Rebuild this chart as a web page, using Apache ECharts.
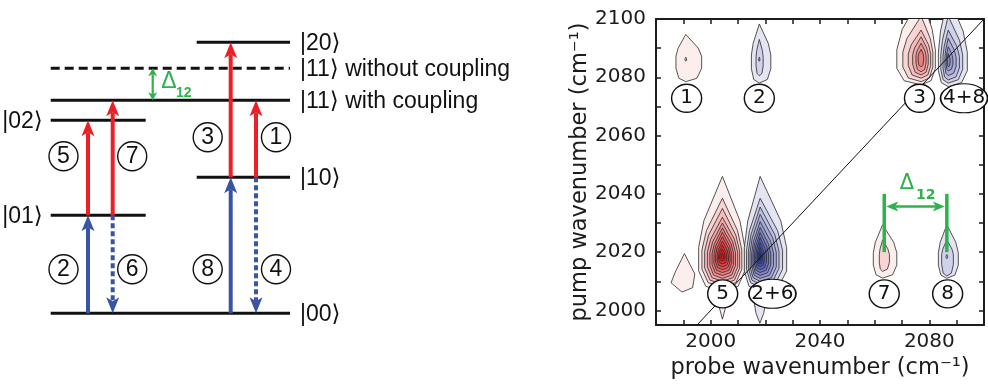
<!DOCTYPE html>
<html>
<head>
<meta charset="utf-8">
<script src="https://cdn.jsdelivr.net/npm/echarts@6/dist/echarts.min.js"></script>
<style>
  html, body { margin: 0; padding: 0; background: #fff; }
  #chart { width: 988px; height: 386px; }
</style>
</head>
<body>
<div id="chart"></div>
<script>
// ================= Energy-level scheme (left) =================
// level energies (schematic units, |00> = 0)
const levelKets    = ['|00⟩', '|01⟩', '|02⟩', '|10⟩', '|11⟩ with coupling', '|11⟩ without coupling', '|20⟩'];
const levelEnergy  = [0, 98, 193, 136, 213, 245, 271];
const levelColumn  = ['both', 'left', 'left', 'right', 'both', 'both', 'right'];
const levelDashed  = [false, false, false, false, false, true, false];
const levelKetSide = ['right', 'left', 'left', 'right', 'right', 'right', 'right'];

// transitions: number, column, start / end level energy, kind
const transitionIds    = ['2', '5', '6', '7', '8', '3', '4', '1'];
const transitionColumn = ['leftA', 'leftA', 'leftB', 'leftB', 'rightA', 'rightA', 'rightB', 'rightB'];
const transitionFrom   = [0, 98, 98, 98, 0, 136, 136, 136];
const transitionTo     = [98, 193, 0, 213, 136, 271, 0, 213];
const transitionKind   = ['bleach', 'esa', 'emission', 'esa', 'bleach', 'esa', 'emission', 'esa'];
const transitionLabelE = [44, 157, 44, 157, 44, 176, 44, 176];

// anharmonic shift of |11> shown between the two |11> levels
const schemeShift = [213, 245];

// ================= 2D spectrum (right) =================
const probeRange = [1980, 2100];
const pumpRange  = [1995, 2100];
const probeTickValues  = [1990, 2000, 2010, 2020, 2030, 2040, 2050, 2060, 2070, 2080, 2090];
const probeLabelValues = [2000, 2040, 2080];
const pumpTickValues   = [2000, 2010, 2020, 2030, 2040, 2050, 2060, 2070, 2080, 2090, 2100];
const pumpLabelValues  = [2000, 2020, 2040, 2060, 2080, 2100];

// cross / diagonal peaks: label, sign (+ red, - blue), centre
const peakLabels = ['1', '2', '3', '4+8', '5', '2+6', '7', '8'];
const peakSigns  = [1, -1, 1, -1, 1, -1, 1, -1];
const peakProbe  = [1990.9, 2017.8, 2077.0, 2086.9, 2004.3, 2018.1, 2062.9, 2086.4];
const peakPump   = [2086.2, 2086.2, 2086.9, 2085.9, 2018.3, 2018.2, 2018.5, 2018.5];
const labelProbe = [1991.2, 2017.8, 2076.4, 2092.7, 2004.4, 2022.6, 2063.5, 2086.7];
const labelPump  = [2072.8, 2072.8, 2072.8, 2072.8, 2005.7, 2005.7, 2005.7, 2005.7];

// contour rings per peak, outermost first: [probe left, probe right, pump bottom, pump top]
const rings1 = [[1987.3, 1996.7, 2078.5, 2094.7], [1990.6, 1991.2, 2085.6, 2086.9]];
const rings2 = [[2014.9, 2022.0, 2078.0, 2098.3], [2016.6, 2019.2, 2080.5, 2093.0], [2017.6, 2018.0, 2085.5, 2086.9]];
const rings3 = [[2068.1, 2082.2, 2077.4, 2108.0], [2070.3, 2081.3, 2078.5, 2101.0], [2072.3, 2080.5, 2079.7, 2096.2],
                [2073.9, 2079.6, 2080.8, 2093.9], [2075.1, 2078.8, 2081.9, 2091.7], [2075.9, 2077.9, 2083.6, 2089.6]];
const rings48 = [[2083.3, 2093.9, 2076.8, 2108.0], [2084.2, 2092.2, 2078.0, 2101.0], [2085.0, 2091.0, 2079.1, 2096.2],
                 [2085.7, 2089.8, 2080.6, 2093.4], [2086.2, 2088.6, 2082.2, 2090.5], [2086.6, 2087.6, 2083.6, 2088.2]];
const rings5 = [[1995.6, 2012.5, 2006.5, 2046.0], [1996.8, 2011.4, 2008.0, 2038.5], [1997.8, 2010.6, 2009.0, 2035.0],
                [1998.8, 2009.9, 2010.0, 2032.0], [1999.7, 2009.1, 2011.0, 2030.0], [2000.5, 2008.4, 2012.0, 2028.3],
                [2001.2, 2007.7, 2013.0, 2026.8], [2001.8, 2007.1, 2014.0, 2025.3], [2002.4, 2006.5, 2015.0, 2023.8],
                [2002.9, 2005.9, 2016.0, 2022.4], [2003.3, 2005.3, 2017.0, 2021.0], [2003.8, 2004.8, 2017.7, 2019.6]];
const rings26 = [[2012.3, 2027.8, 2006.5, 2046.0], [2013.1, 2026.3, 2008.0, 2038.5], [2013.8, 2025.0, 2009.0, 2035.5],
                 [2014.4, 2024.0, 2010.0, 2033.0], [2015.0, 2023.0, 2011.0, 2030.5], [2015.5, 2022.0, 2012.0, 2028.5],
                 [2016.0, 2021.2, 2013.0, 2026.7], [2016.5, 2020.4, 2014.0, 2025.0], [2017.0, 2019.6, 2015.0, 2023.3],
                 [2017.4, 2018.9, 2016.0, 2021.6], [2017.8, 2018.4, 2017.0, 2019.8]];
const rings7 = [[2059.5, 2068.1, 2011.1, 2029.4], [2061.7, 2065.4, 2013.4, 2024.2]];
const rings8 = [[2083.3, 2090.6, 2011.0, 2029.4], [2084.5, 2088.8, 2011.8, 2024.2], [2086.1, 2086.7, 2017.8, 2019.2]];

// small irregular contour lobes: [probe, pump] vertices
const lobeRedLeft  = [[1990.4, 2019.5], [1994.2, 2012.5], [1993.4, 2007.8], [1989.5, 2006.3], [1985.5, 2009.5], [1987.2, 2013.5]];
const lobeRedLow   = [[2002.6, 2003.0], [2006.0, 2003.0], [2004.3, 1997.0]];
const lobeBlueLow  = [[2015.8, 2003.5], [2020.3, 2003.5], [2019.4, 1999.0], [2018.0, 1995.6], [2016.6, 1999.0]];

// coupling shift marker: probe positions of peaks 7 and 8, pump span, arrow height
const shiftProbe = [2063.5, 2086.4];
const shiftPump  = [2020, 2040];
const shiftArrowPump = 2035.7;

// ================= styling =================
const INK = '#1c1c1c';
const RED = '#ec1f27';
const BLUE = '#3a54a4';
const GREEN = '#2cb34c';
const KET_FONT = "'Liberation Sans', 'DejaVu Sans', sans-serif";
const PLOT_FONT = "'DejaVu Sans', sans-serif";
const RED_LEVELS  = ['#fdeeee', '#f8d4d4', '#f5bebe', '#f2a8a8', '#f09292', '#ed7c7d', '#eb6768', '#e95253', '#e73e41', '#e52c30', '#e31c21', '#e0101a'];
const BLUE_LEVELS = ['#e4e4f2', '#d0d2ea', '#bcbfe1', '#a8acd8', '#959acf', '#8187c6', '#6d75be', '#5a63b6', '#4852ae', '#3743a7', '#2a37a0'];

// layout of the scheme (diagram x units = px inside its grid)
const columnSpan = { both: [50.7, 290], left: [50.7, 145.7], right: [196.7, 290] };
const arrowX = { leftA: 88, leftB: 112.7, rightA: 230.7, rightB: 256 };
const labelDX = { leftA: -24.5, leftB: 19.5, rightA: -23, rightB: 20 };

function arrowHead(p0, p1, len, w, notch) {
  const dx = p1[0] - p0[0], dy = p1[1] - p0[1];
  const L = Math.hypot(dx, dy) || 1;
  const ux = dx / L, uy = dy / L, nx = -uy, ny = ux;
  const bx = p1[0] - ux * len, by = p1[1] - uy * len;
  const inner = [bx + ux * notch, by + uy * notch];
  return {
    points: [p1, [bx + nx * w / 2, by + ny * w / 2], inner, [bx - nx * w / 2, by - ny * w / 2]],
    shaftEnd: inner
  };
}

// contour ring outline from its extents around the peak centre
function ringOutline(L, R, B, T, cx, cy) {
  const up = T - cy, dn = cy - B;
  return [
    [cx, T],
    [cx + 0.78 * (R - cx), cy + 0.45 * up],
    [R, cy + 0.12 * up],
    [R, cy - 0.4 * dn],
    [cx + 0.7 * (R - cx), cy - 0.85 * dn],
    [cx, B],
    [cx - 0.7 * (cx - L), cy - 0.85 * dn],
    [L, cy - 0.4 * dn],
    [L, cy + 0.12 * up],
    [cx - 0.78 * (cx - L), cy + 0.45 * up]
  ];
}

const peakRings = [rings1, rings2, rings3, rings48, rings5, rings26, rings7, rings8];
const ringData = [];
peakRings.forEach((rings, p) => rings.forEach((r, k) => {
  ringData.push([r[0], r[1], r[2], r[3], peakProbe[p], peakPump[p], k, peakSigns[p]]);
}));
const lobes = [
  { pts: lobeRedLeft, sign: 1 },
  { pts: lobeRedLow, sign: 1 },
  { pts: lobeBlueLow, sign: -1 }
];

const chart = echarts.init(document.getElementById('chart'));

const plainNumber = v => String(Math.round(v));

const option = {
  animation: false,
  backgroundColor: '#fff',
  grid: [
    { left: 0, top: 13.3, width: 300, height: 350 },
    { left: 656, top: 19, width: 328, height: 306 }
  ],
  xAxis: [
    { gridIndex: 0, type: 'value', min: 0, max: 300, show: false },
    {
      gridIndex: 1, type: 'value', min: probeRange[0], max: probeRange[1], position: 'bottom',
      name: 'probe wavenumber (cm⁻¹)', nameLocation: 'middle', nameGap: 25,
      nameTextStyle: { fontFamily: PLOT_FONT, fontSize: 22.5, color: INK, verticalAlign: 'top' },
      axisLine: { onZero: false, lineStyle: { color: INK, width: 2 } },
      axisTick: { inside: true, length: 5, customValues: probeTickValues, lineStyle: { color: INK, width: 1.5 } },
      axisLabel: { customValues: probeLabelValues, formatter: plainNumber, margin: 7, fontFamily: PLOT_FONT, fontSize: 20, color: INK },
      splitLine: { show: false }
    },
    {
      gridIndex: 1, type: 'value', min: probeRange[0], max: probeRange[1], position: 'top',
      axisLine: { onZero: false, lineStyle: { color: INK, width: 2 } },
      axisTick: { inside: true, length: 5, customValues: probeTickValues, lineStyle: { color: INK, width: 1.5 } },
      axisLabel: { show: false },
      splitLine: { show: false }
    }
  ],
  yAxis: [
    { gridIndex: 0, type: 'value', min: -50, max: 300, show: false },
    {
      gridIndex: 1, type: 'value', min: pumpRange[0], max: pumpRange[1], position: 'left',
      name: 'pump wavenumber (cm⁻¹)', nameLocation: 'middle', nameGap: 64,
      nameTextStyle: { fontFamily: PLOT_FONT, fontSize: 22.5, color: INK },
      axisLine: { onZero: false, lineStyle: { color: INK, width: 2 } },
      axisTick: { inside: true, length: 5, customValues: pumpTickValues, lineStyle: { color: INK, width: 1.5 } },
      axisLabel: { customValues: pumpLabelValues, formatter: plainNumber, margin: 10, fontFamily: PLOT_FONT, fontSize: 20, color: INK },
      splitLine: { show: false }
    },
    {
      gridIndex: 1, type: 'value', min: pumpRange[0], max: pumpRange[1], position: 'right',
      axisLine: { onZero: false, lineStyle: { color: INK, width: 2 } },
      axisTick: { inside: true, length: 5, customValues: pumpTickValues, lineStyle: { color: INK, width: 1.5 } },
      axisLabel: { show: false },
      splitLine: { show: false }
    }
  ],
  series: [
    // ---- scheme: energy levels ----
    {
      type: 'custom', xAxisIndex: 0, yAxisIndex: 0, z: 3,
      data: levelEnergy.map((e, i) => [columnSpan[levelColumn[i]][0], e]),
      renderItem(params, api) {
        const i = params.dataIndex;
        const span = columnSpan[levelColumn[i]];
        const a = api.coord([span[0], levelEnergy[i]]);
        const b = api.coord([span[1], levelEnergy[i]]);
        const anchor = levelKetSide[i] === 'right' ? [b[0] + 10, b[1]] : [a[0] - 8, a[1]];
        return {
          type: 'group',
          children: [
            { type: 'line', shape: { x1: a[0], y1: a[1], x2: b[0], y2: b[1] },
              style: { stroke: '#111', lineWidth: 3, lineDash: levelDashed[i] ? [9, 5] : null } },
            { type: 'text', x: anchor[0], y: anchor[1] + 1,
              style: { text: levelKets[i], fill: '#111', fontFamily: KET_FONT, fontSize: 23,
                       align: levelKetSide[i] === 'right' ? 'left' : 'right', verticalAlign: 'middle' } }
          ]
        };
      }
    },
    // ---- scheme: transitions ----
    {
      type: 'custom', xAxisIndex: 0, yAxisIndex: 0, z: 4,
      data: transitionIds.map((id, i) => [arrowX[transitionColumn[i]], transitionFrom[i]]),
      renderItem(params, api) {
        const i = params.dataIndex;
        const x = arrowX[transitionColumn[i]];
        const kind = transitionKind[i];
        const color = kind === 'esa' ? RED : BLUE;
        const p0 = api.coord([x, transitionFrom[i]]);
        const p1 = api.coord([x, transitionTo[i]]);
        const h = arrowHead(p0, p1, 16, 13, 4);
        return {
          type: 'group',
          children: [
            { type: 'line', shape: { x1: p0[0], y1: p0[1], x2: h.shaftEnd[0], y2: h.shaftEnd[1] },
              style: { stroke: color, lineWidth: 4, lineDash: kind === 'emission' ? [5, 3] : null } },
            { type: 'polygon', shape: { points: h.points }, style: { fill: color } }
          ]
        };
      }
    },
    // ---- scheme: anharmonic shift ----
    {
      type: 'custom', xAxisIndex: 0, yAxisIndex: 0, z: 4,
      data: [[152.7, schemeShift[0]]],
      renderItem(params, api) {
        const a = api.coord([152.7, schemeShift[0]]);
        const b = api.coord([152.7, schemeShift[1]]);
        const hUp = arrowHead(a, b, 8, 9, 2);
        const hDn = arrowHead(b, a, 8, 9, 2);
        const d = api.coord([169, (schemeShift[0] + schemeShift[1]) / 2 + 2.5]);
        return {
          type: 'group',
          children: [
            { type: 'line', shape: { x1: hDn.shaftEnd[0], y1: hDn.shaftEnd[1], x2: hUp.shaftEnd[0], y2: hUp.shaftEnd[1] },
              style: { stroke: GREEN, lineWidth: 2.2 } },
            { type: 'polygon', shape: { points: hUp.points }, style: { fill: GREEN } },
            { type: 'polygon', shape: { points: hDn.points }, style: { fill: GREEN } },
            { type: 'text', x: d[0], y: d[1],
              style: { text: 'Δ', fill: GREEN, fontFamily: KET_FONT, fontSize: 23, align: 'center', verticalAlign: 'middle' } },
            { type: 'text', x: d[0] + 7, y: d[1] + 11,
              style: { text: '12', fill: GREEN, fontFamily: KET_FONT, fontSize: 14, fontWeight: 'bold', align: 'left', verticalAlign: 'middle' } }
          ]
        };
      }
    },
    // ---- scheme: transition numbers ----
    {
      type: 'scatter', xAxisIndex: 0, yAxisIndex: 0, z: 5,
      symbol: 'circle', symbolSize: 29,
      itemStyle: { color: '#fff', borderColor: '#111', borderWidth: 1.4, opacity: 1 },
      label: { show: true, position: 'inside', formatter: p => p.name, fontFamily: KET_FONT, fontSize: 23, color: '#111' },
      emphasis: { disabled: true },
      data: transitionIds.map((id, i) => ({
        name: id, value: [arrowX[transitionColumn[i]] + labelDX[transitionColumn[i]], transitionLabelE[i]]
      }))
    },
    // ---- spectrum: lobes ----
    {
      type: 'custom', xAxisIndex: 1, yAxisIndex: 1, z: 2, clip: true,
      data: lobes.map(l => l.pts[0]),
      renderItem(params, api) {
        const l = lobes[params.dataIndex];
        return {
          type: 'polygon', shape: { points: l.pts.map(p => api.coord(p)) },
          style: { fill: l.sign > 0 ? RED_LEVELS[0] : BLUE_LEVELS[0], stroke: '#2a2a2a', lineWidth: 0.8 }
        };
      }
    },
    // ---- spectrum: contour rings ----
    {
      type: 'custom', xAxisIndex: 1, yAxisIndex: 1, z: 2, clip: true,
      encode: { x: [0, 1], y: [2, 3] },
      data: ringData,
      renderItem(params, api) {
        const d = ringData[params.dataIndex];
        const pts = ringOutline(d[0], d[1], d[2], d[3], d[4], d[5]).map(p => api.coord(p));
        const levels = d[7] > 0 ? RED_LEVELS : BLUE_LEVELS;
        return {
          type: 'polygon', shape: { points: pts },
          style: { fill: levels[Math.min(d[6], levels.length - 1)], stroke: '#2a2a2a', lineWidth: 0.8 }
        };
      }
    },
    // ---- spectrum: diagonal ----
    {
      type: 'line', xAxisIndex: 1, yAxisIndex: 1, z: 3, symbol: 'none', silent: true,
      lineStyle: { color: '#111', width: 1 },
      data: [[pumpRange[0], pumpRange[0]], [pumpRange[1], pumpRange[1]]]
    },
    // ---- spectrum: coupling shift marker ----
    {
      type: 'custom', xAxisIndex: 1, yAxisIndex: 1, z: 4,
      data: [[shiftProbe[0], shiftPump[0]]],
      renderItem(params, api) {
        const children = [];
        shiftProbe.forEach(x => {
          const a = api.coord([x, shiftPump[0]]), b = api.coord([x, shiftPump[1]]);
          children.push({ type: 'line', shape: { x1: a[0], y1: a[1], x2: b[0], y2: b[1] },
                          style: { stroke: GREEN, lineWidth: 3.5 } });
        });
        const l = api.coord([shiftProbe[0], shiftArrowPump]);
        const r = api.coord([shiftProbe[1], shiftArrowPump]);
        l[0] += 2; r[0] -= 2;
        const hR = arrowHead(l, r, 12, 10, 3);
        const hL = arrowHead(r, l, 12, 10, 3);
        children.push({ type: 'line', shape: { x1: hL.shaftEnd[0], y1: l[1], x2: hR.shaftEnd[0], y2: r[1] },
                        style: { stroke: GREEN, lineWidth: 2.5 } });
        children.push({ type: 'polygon', shape: { points: hR.points }, style: { fill: GREEN } });
        children.push({ type: 'polygon', shape: { points: hL.points }, style: { fill: GREEN } });
        const d = api.coord([2071.8, 2043.4]);
        children.push({ type: 'text', x: d[0], y: d[1],
          style: { text: 'Δ', fill: GREEN, fontFamily: PLOT_FONT, fontSize: 21, align: 'center', verticalAlign: 'middle' } });
        children.push({ type: 'text', x: d[0] + 9, y: d[1] + 11,
          style: { text: '12', fill: GREEN, fontFamily: PLOT_FONT, fontSize: 14, fontWeight: 'bold', align: 'left', verticalAlign: 'middle' } });
        return { type: 'group', children };
      }
    },
    // ---- spectrum: peak labels ----
    {
      type: 'scatter', xAxisIndex: 1, yAxisIndex: 1, z: 6,
      symbol: 'circle',
      itemStyle: { color: '#fff', borderColor: '#111', borderWidth: 1.4, opacity: 1 },
      label: { show: true, position: 'inside', formatter: p => p.name, fontFamily: PLOT_FONT, fontSize: 20, color: '#111' },
      emphasis: { disabled: true },
      data: peakLabels.map((name, i) => ({
        name, value: [labelProbe[i], labelPump[i]],
        symbolSize: name.length > 1 ? [47, 29] : [30, 28]
      }))
    }
  ]
};

chart.setOption(option);
</script>
</body>
</html>
